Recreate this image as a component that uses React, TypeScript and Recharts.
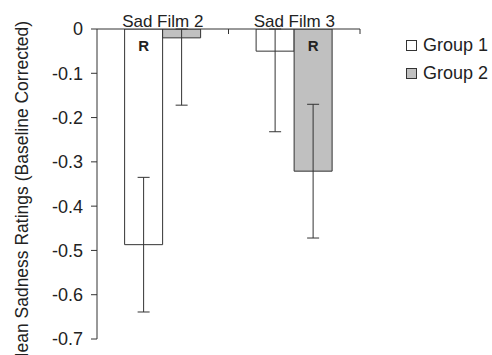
import { BarChart, Bar, XAxis, YAxis, ErrorBar, LabelList, Legend, Label } from "recharts";

const films = ["Sad Film 2", "Sad Film 3"];
const group1Means = [-0.487, -0.05];
// [below, above]; the upper arm of a bar near zero runs up to the axis
const group1Errors = [
  [0.152, 0.152],
  [0.182, 0.05],
];
const group2Means = [-0.02, -0.321];
const group2Errors = [
  [0.152, 0.02],
  [0.151, 0.151],
];
const group1Marks = ["R", ""];
const group2Marks = ["", "R"];
const yTicks = [0, -0.1, -0.2, -0.3, -0.4, -0.5, -0.6, -0.7];

const data = films.map((film, i) => ({
  film,
  g1: group1Means[i],
  g1Err: group1Errors[i],
  g1Mark: group1Marks[i],
  g2: group2Means[i],
  g2Err: group2Errors[i],
  g2Mark: group2Marks[i],
}));

const ink = "#333";
const font = "'Liberation Sans', Arial, sans-serif";
const tickGap = 2;

// category label plus the Excel-style tick at the right edge of the category
const FilmTick = (props: any) => {
  const { x, y, payload } = props;
  const half = Number(payload?.offset ?? 0);
  const axisY = Number(y) + tickGap;
  return (
    <g>
      <text x={x} y={y} textAnchor="middle" fontSize={17} fill="#222">
        {payload.value}
      </text>
      <line x1={x + half} x2={x + half} y1={axisY} y2={axisY + 5} stroke={ink} />
    </g>
  );
};

const MarkLabel = (props: any) => {
  const { x, y, width, height, value } = props;
  if (!value) return null;
  const top = Math.min(Number(y), Number(y) + Number(height));
  return (
    <text
      x={Number(x) + Number(width) / 2}
      y={top + 22}
      textAnchor="middle"
      fontWeight="bold"
      fontSize={15}
      fill="#222"
    >
      {value}
    </text>
  );
};

const YTitle = (props: any) => {
  const { viewBox } = props;
  const cx = viewBox.x + 22;
  const cy = viewBox.y + viewBox.height / 2 + 10;
  return (
    <text
      x={cx}
      y={cy}
      dy="0.35em"
      transform={`rotate(-90, ${cx}, ${cy})`}
      textAnchor="middle"
      fontSize={17.5}
      fill="#222"
    >
      Mean Sadness Ratings (Baseline Corrected)
    </text>
  );
};

const GroupLegend = (props: any) => {
  const { payload } = props;
  return (
    <div style={{ fontFamily: font }}>
      {(payload || []).map((entry: any) => (
        <div
          key={entry.value}
          style={{ display: "flex", alignItems: "center", height: 28 }}
        >
          <span
            style={{
              display: "inline-block",
              width: 9,
              height: 9,
              border: `1px solid ${ink}`,
              background: entry.payload?.fill ?? entry.color,
              marginRight: 6,
            }}
          />
          <span style={{ fontSize: 18, color: "#222" }}>{entry.value}</span>
        </div>
      ))}
    </div>
  );
};

export default function App() {
  return (
    <div style={{ position: "absolute", left: 0, top: 0, background: "#fff" }}>
      <BarChart
        width={492}
        height={355}
        data={data}
        margin={{ top: 0, right: 132, left: 0, bottom: 16 }}
        barCategoryGap="21%"
        barGap={0}
        style={{ fontFamily: font }}
      >
        <XAxis
          dataKey="film"
          orientation="top"
          height={29}
          tickLine={false}
          tickSize={0}
          tickMargin={tickGap}
          stroke={ink}
          tick={<FilmTick />}
        />
        <YAxis
          width={97}
          domain={[-0.7, 0]}
          ticks={yTicks}
          allowDataOverflow
          interval={0}
          tickSize={6}
          tickMargin={8}
          stroke={ink}
          tick={{ fontSize: 18, fill: "#222" }}
        >
          <Label content={<YTitle />} />
        </YAxis>
        <Legend
          layout="vertical"
          verticalAlign="middle"
          align="center"
          content={<GroupLegend />}
          wrapperStyle={{ position: "absolute", left: 406, top: 31, width: 86, height: 56 }}
        />
        <Bar dataKey="g1" name="Group 1" fill="#ffffff" stroke={ink} strokeWidth={1} isAnimationActive={false}>
          <ErrorBar dataKey="g1Err" width={6} stroke={ink} strokeWidth={1} />
          <LabelList dataKey="g1Mark" content={<MarkLabel />} />
        </Bar>
        <Bar dataKey="g2" name="Group 2" fill="#c0c0c0" stroke={ink} strokeWidth={1} isAnimationActive={false}>
          <ErrorBar dataKey="g2Err" width={6} stroke={ink} strokeWidth={1} />
          <LabelList dataKey="g2Mark" content={<MarkLabel />} />
        </Bar>
      </BarChart>
    </div>
  );
}
